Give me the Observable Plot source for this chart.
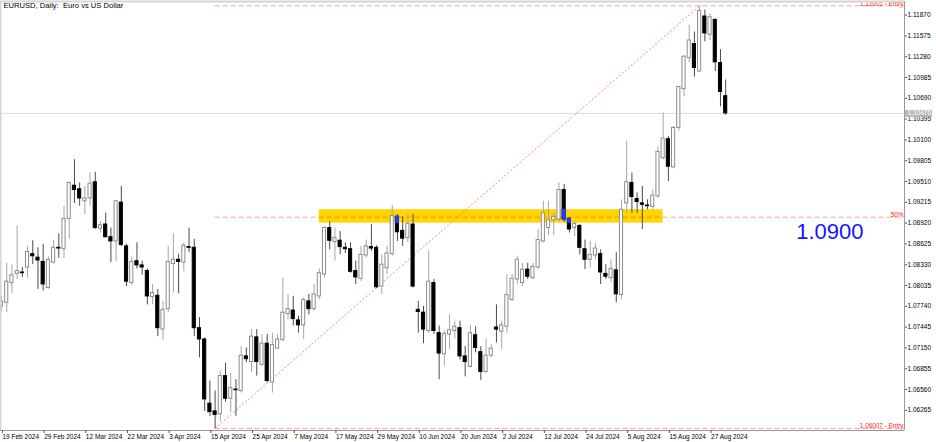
<!DOCTYPE html>
<html><head><meta charset="utf-8">
<script src="https://cdn.jsdelivr.net/npm/d3@7"></script>
<script src="https://cdn.jsdelivr.net/npm/@observablehq/plot@0.6"></script>
<style>
html,body{margin:0;padding:0;background:#fff;}
#chart{width:936px;height:442px;overflow:hidden;}
svg{display:block;}
</style></head>
<body><div id="chart"></div>
<script>
// EURUSD daily bars, 19 Feb 2024 .. 30 Aug 2024 (bar index 0..139)
const open = [
1.0774,1.0779,1.0807,1.0820,1.0822,1.0829,1.0848,1.0843,1.0837,1.0800,
1.0836,1.0857,1.0855,1.0898,1.0945,1.0940,1.0923,1.0927,1.0950,1.0884,
1.0890,1.0872,1.0866,1.0921,1.0859,1.0807,1.0838,1.0832,1.0824,1.0787,
1.0789,1.0741,1.0770,1.0834,1.0840,1.0836,1.0858,1.0857,1.0743,1.0727,
1.0636,1.0625,1.0621,1.0675,1.0643,1.0656,1.0654,1.0703,1.0695,1.0730,
1.0691,1.0721,1.0666,1.0714,1.0726,1.0763,1.0768,1.0754,1.0747,1.0781,
1.0770,1.0788,1.0819,1.0885,1.0865,1.0867,1.0857,1.0855,1.0824,1.0813,
1.0846,1.0858,1.0857,1.0802,1.0828,1.0848,1.0901,1.0881,1.0871,1.0890,
1.0769,1.0765,1.0739,1.0807,1.0736,1.0706,1.0734,1.0739,1.0743,1.0703,
1.0688,1.0733,1.0709,1.0681,1.0704,1.0744,1.0738,1.0745,1.0783,1.0812,
1.0807,1.0826,1.0814,1.0829,1.0866,1.0885,1.0896,1.0897,1.0939,1.0898,
1.0885,1.0888,1.0855,1.0840,1.0846,1.0848,1.0820,1.0814,1.0825,1.0790,
1.0920,1.0949,1.0926,1.0920,1.0917,1.0915,1.0930,1.0984,1.1011,1.0971,
1.1027,1.1082,1.1126,1.1146,1.1107,1.1185,1.1159,1.1180,1.1119,1.1072];
const high = [
1.0788,1.0835,1.0833,1.0888,1.0829,1.0859,1.0867,1.0857,1.0862,1.0844,
1.0868,1.0877,1.0916,1.0950,1.0982,1.0949,1.0944,1.0963,1.0964,1.0894,
1.0906,1.0885,1.0924,1.0944,1.0862,1.0844,1.0864,1.0838,1.0827,1.0805,
1.0798,1.0781,1.0859,1.0877,1.0848,1.0864,1.0885,1.0869,1.0758,1.0729,
1.0668,1.0654,1.0682,1.0693,1.0679,1.0670,1.0717,1.0715,1.0741,1.0741,
1.0734,1.0734,1.0736,1.0734,1.0814,1.0791,1.0788,1.0760,1.0786,1.0791,
1.0805,1.0827,1.0887,1.0894,1.0885,1.0880,1.0864,1.0864,1.0838,1.0859,
1.0868,1.0890,1.0860,1.0847,1.0859,1.0917,1.0904,1.0901,1.0904,1.0904,
1.0781,1.0774,1.0852,1.0812,1.0746,1.0739,1.0762,1.0753,1.0753,1.0717,
1.0747,1.0745,1.0717,1.0728,1.0720,1.0776,1.0753,1.0819,1.0819,1.0845,
1.0835,1.0835,1.0835,1.0883,1.0923,1.0923,1.0906,1.0949,1.0947,1.0900,
1.0894,1.0890,1.0868,1.0866,1.0863,1.0854,1.0833,1.0840,1.0850,1.0925,
1.1008,1.0963,1.0935,1.0944,1.0925,1.0939,1.1000,1.1048,1.1015,1.1029,
1.1086,1.1130,1.1173,1.1163,1.12001,1.1194,1.1189,1.1182,1.1138,1.1095];
const low = [
1.0766,1.0765,1.0792,1.0812,1.0815,1.0814,1.0833,1.0798,1.0796,1.0798,
1.0834,1.0842,1.0842,1.0869,1.0920,1.0916,1.0904,1.0916,1.0883,1.0878,
1.0871,1.0836,1.0838,1.0859,1.0802,1.0803,1.0827,1.0818,1.0776,1.0776,
1.0731,1.0726,1.0765,1.0793,1.0792,1.0823,1.0850,1.0731,1.0701,1.0625,
1.0618,1.06007,1.0610,1.0638,1.0623,1.0618,1.0651,1.0694,1.0680,1.0675,
1.0689,1.0666,1.0651,1.0713,1.0724,1.0755,1.0746,1.0736,1.0727,1.0762,
1.0767,1.0783,1.0814,1.0854,1.0838,1.0847,1.0849,1.0821,1.0805,1.0809,
1.0842,1.0852,1.0799,1.0791,1.0819,1.0845,1.0866,1.0859,1.0864,1.0800,
1.0736,1.0721,1.0736,1.0734,1.0670,1.0689,1.0713,1.0728,1.0698,1.0674,
1.0687,1.0708,1.0669,1.0679,1.0701,1.0722,1.0713,1.0736,1.0781,1.0805,
1.0802,1.0812,1.0812,1.0826,1.0864,1.0874,1.0874,1.0893,1.0893,1.0878,
1.0873,1.0847,1.0826,1.0828,1.0840,1.0805,1.0812,1.0807,1.0779,1.0783,
1.0906,1.0906,1.0906,1.0883,1.0911,1.0911,1.0927,1.0982,1.0951,1.0969,
1.1022,1.1071,1.1119,1.1099,1.1106,1.1149,1.1151,1.1107,1.1057,1.1045];
const close = [
1.0781,1.0809,1.0818,1.0824,1.0821,1.0851,1.0845,1.0839,1.0805,1.0840,
1.0857,1.0856,1.0898,1.0949,1.0939,1.0927,1.0927,1.0948,1.0885,1.0889,
1.0872,1.0866,1.0923,1.0861,1.0809,1.0837,1.0832,1.0829,1.0788,1.0793,
1.0743,1.0769,1.0837,1.0840,1.0837,1.0860,1.0857,1.0743,1.0727,1.0642,
1.0624,1.0620,1.0675,1.0643,1.0658,1.0655,1.0704,1.0699,1.0731,1.0695,
1.0721,1.0668,1.0719,1.0727,1.0765,1.0770,1.0756,1.0747,1.0783,1.0770,
1.0791,1.0821,1.0885,1.0867,1.0871,1.0858,1.0855,1.0823,1.0815,1.0847,
1.0859,1.0856,1.0801,1.0833,1.0849,1.0902,1.0879,1.0870,1.0891,1.0802,
1.0766,1.0741,1.0809,1.0739,1.0707,1.0735,1.0740,1.0745,1.0703,1.0695,
1.0736,1.0715,1.0681,1.0704,1.0714,1.0741,1.0747,1.0790,1.0813,1.0840,
1.0826,1.0816,1.0830,1.0868,1.0906,1.0896,1.0901,1.0939,1.0897,1.0883,
1.0891,1.0857,1.0840,1.0847,1.0856,1.0822,1.0816,1.0827,1.0791,1.0911,
1.0950,1.0929,1.0922,1.0918,1.0916,1.0931,1.0993,1.1012,1.0972,1.1027,
1.1085,1.1128,1.1151,1.1112,1.1193,1.1161,1.1184,1.1120,1.1078,1.10476];

const tickIndex  = [0,8,16,24,32,40,48,56,64,72,80,88,96,104,112,120,128,136];
const tickLabels = ["19 Feb 2024","29 Feb 2024","12 Mar 2024","22 Mar 2024","3 Apr 2024","15 Apr 2024",
  "25 Apr 2024","7 May 2024","17 May 2024","29 May 2024","10 Jun 2024","20 Jun 2024","2 Jul 2024",
  "12 Jul 2024","24 Jul 2024","5 Aug 2024","15 Aug 2024","27 Aug 2024"];
const yTicks = [1.11870,1.11575,1.11280,1.10985,1.10690,1.10395,1.10100,1.09805,1.09510,1.09215,
  1.08920,1.08625,1.08330,1.08035,1.07740,1.07445,1.07150,1.06855,1.06560,1.06265];

// Fibonacci object: anchor bars and prices (low, high)
const fibBars = [41, 134];
const fibPrices = [1.06007, 1.12001];
const fibNames = ["1.06007 - Entry", "50%", "1.12001 - Entry"];
// yellow zone: bar range and price range
const zoneBars = [61, 127];
const zonePrices = [1.0892, 1.0911];
const lastPrice = 1.10476;
const title = "EURUSD, Daily:  Euro vs US Dollar";
const levelText = "1.0900";
const levelTextPos = [159, 1.0879];

// ---------- build ----------
const xDomain = [-0.19, 173.32];
const yDomain = [1.05979, 1.12063];
const bars = open.map((o, i) => ({i, o, h: high[i], l: low[i], c: close[i]}));
const bull = bars.filter(d => d.c >= d.o);
const bear = bars.filter(d => d.c < d.o);
const blue = bear
  .filter(d => d.i >= zoneBars[0] && d.i <= zoneBars[1] && d.o > zonePrices[0] && d.c < zonePrices[1])
  .map(d => ({i: d.i, lo: Math.max(d.c, zonePrices[0]), hi: Math.min(d.o, zonePrices[1])}));
const fibLevels = [fibPrices[0], (fibPrices[0] + fibPrices[1]) / 2, fibPrices[1]]
  .map((v, k) => ({v, name: fibNames[k]}));
const zone = [{x1: zoneBars[0], x2: zoneBars[1], y1: zonePrices[0], y2: zonePrices[1]}];
const diag = [{x1: fibBars[0], y1: fibPrices[0], x2: fibBars[1], y2: fibPrices[1]}];
const hw = 0.3;
const FONT = "Liberation Sans, Arial, sans-serif";

const chart = Plot.plot({
  width: 936, height: 442,
  marginLeft: 0, marginRight: 32, marginTop: 1, marginBottom: 12,
  x: {type: "linear", domain: xDomain},
  y: {type: "linear", domain: yDomain},
  style: {fontFamily: FONT, background: "#ffffff", color: "#000"},
  marks: [
    Plot.rect(zone, {x1: "x1", x2: "x2", y1: "y1", y2: "y2", fill: "#FFD500"}),
    Plot.ruleY([lastPrice], {stroke: "#dcdcdc"}),
    Plot.link(diag, {x1: "x1", y1: "y1", x2: "x2", y2: "y2", stroke: "#ff5a5a", strokeOpacity: 0.75, strokeWidth: 1, strokeDasharray: "2,2"}),
    Plot.ruleY(fibLevels, {y: "v", x1: fibBars[0], x2: xDomain[1], stroke: "#ff2a2a", strokeOpacity: 0.45, strokeDasharray: "5,3"}),
    Plot.ruleX(bull, {x: "i", y1: "l", y2: "h", stroke: "#a6a6a6"}),
    Plot.ruleX(bear, {x: "i", y1: "l", y2: "h", stroke: "#4a4a4a"}),
    Plot.rect(bull, {x1: d => d.i - hw, x2: d => d.i + hw, y1: "o", y2: "c", fill: "#ffffff", stroke: "#8c8c8c"}),
    Plot.rect(bear, {x1: d => d.i - hw, x2: d => d.i + hw, y1: "o", y2: "c", fill: "#000000", stroke: "#000000"}),
    Plot.rect(blue, {x1: d => d.i - hw, x2: d => d.i + hw, y1: "lo", y2: "hi", fill: "#1f3cff", stroke: "#1f3cff"}),
    Plot.text(fibLevels, {y: "v", x: xDomain[1], text: "name", dx: -1, dy: -0.2, textAnchor: "end", lineAnchor: "bottom", fill: "#ff2020", fontSize: 6.4}),
    Plot.text([levelText], {x: levelTextPos[0], y: levelTextPos[1], text: d => d, fill: "#1414ff", fontSize: 22, fontFamily: FONT}),
    Plot.text([title], {frameAnchor: "top-left", text: d => d, dx: 3, dy: 1.5, textAnchor: "start", lineAnchor: "top", fontSize: 7.6, fill: "#000"}),
    // frame lines
    Plot.ruleX([xDomain[0]], {stroke: "#d6d6d6", strokeWidth: 2}),
    Plot.ruleY([yDomain[1]], {stroke: "#d6d6d6", strokeWidth: 2}),
    Plot.ruleX([xDomain[1]], {stroke: "#9a9a9a"}),
    Plot.ruleY([yDomain[0]], {stroke: "#9a9a9a"}),
    Plot.axisY({anchor: "right", ticks: yTicks, tickFormat: d => d.toFixed(5), tickSize: 2, tickPadding: 1, fontSize: 6.5, label: null, stroke: "#555"}),
    Plot.axisX({anchor: "bottom", ticks: tickIndex, tickFormat: d => tickLabels[tickIndex.indexOf(d)], tickSize: 3, tickPadding: 1, textAnchor: "start", dx: 1, fontSize: 6.5, label: null, stroke: "#555"}),
    Plot.ruleY([lastPrice], {x1: xDomain[1] + 0.15, x2: xDomain[1] + 5.4, stroke: "#b9b9b9", strokeWidth: 7}),
    Plot.text([lastPrice], {x: xDomain[1], y: d => d, text: d => d.toFixed(5), dx: 3, textAnchor: "start", fill: "#ffffff", fontSize: 6.5})
  ]
});
document.getElementById("chart").appendChild(chart);
</script>
</body></html>
